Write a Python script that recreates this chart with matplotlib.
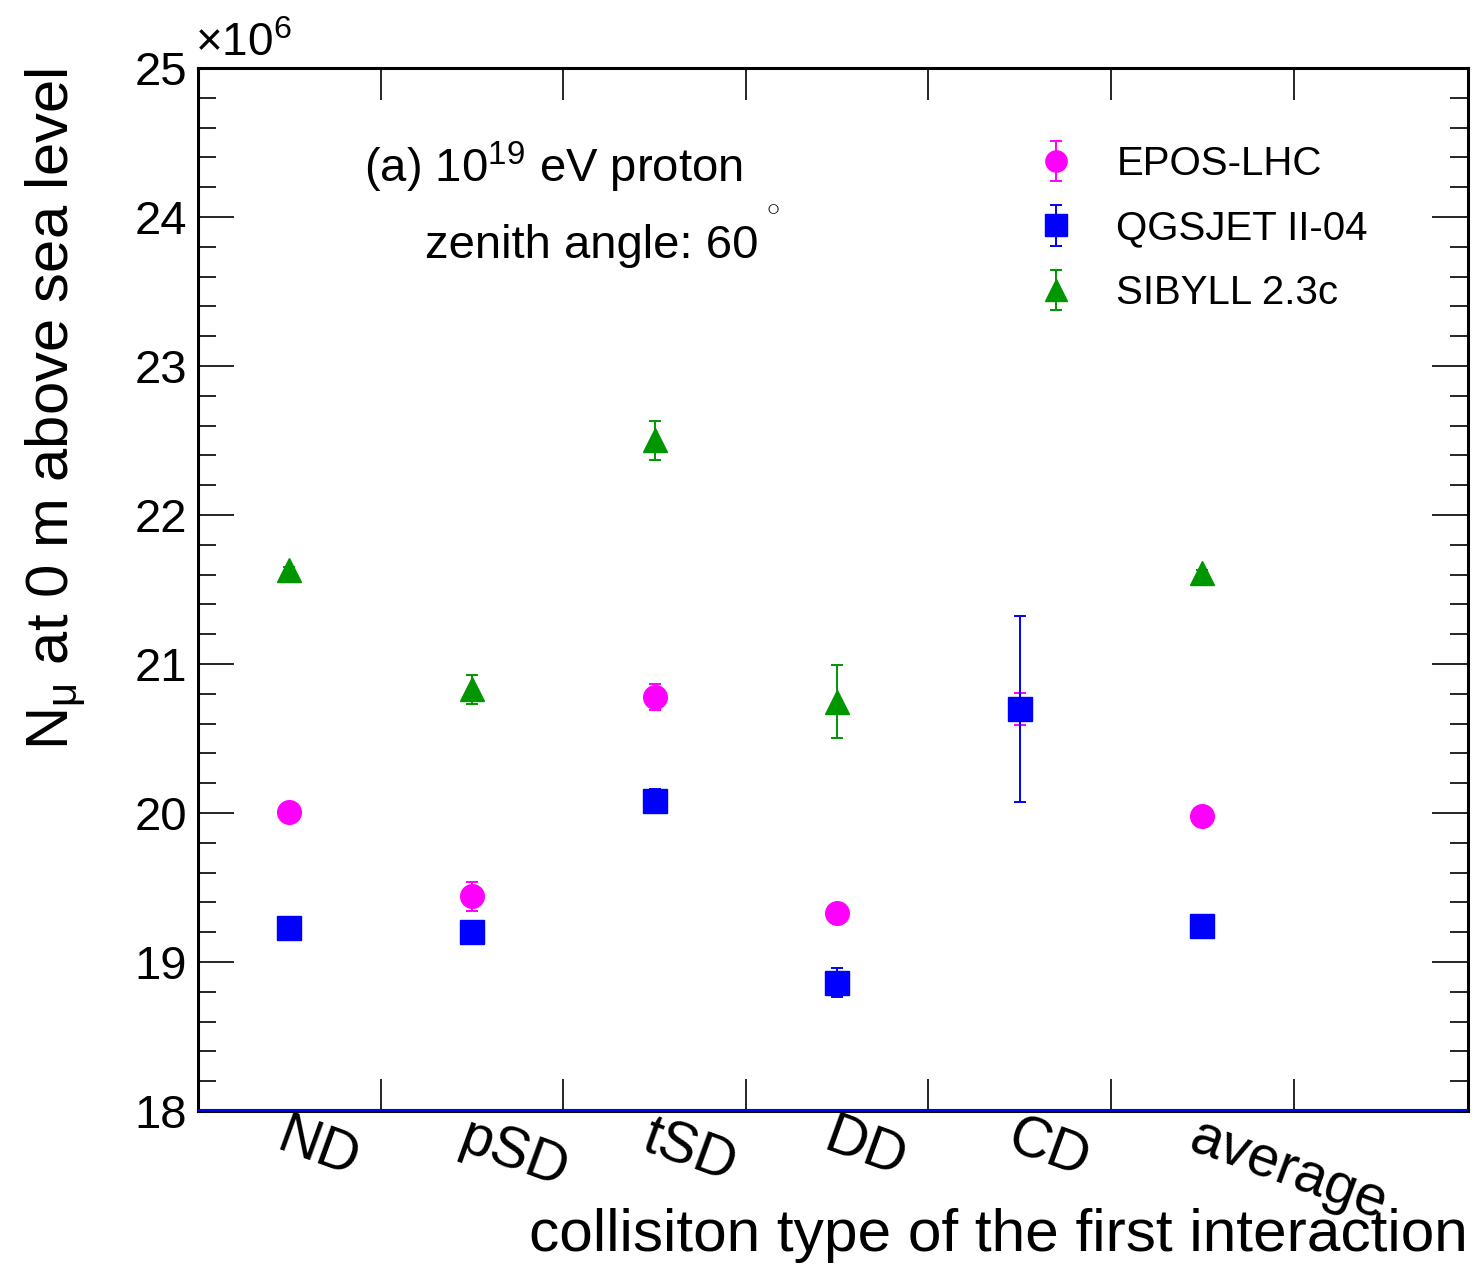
import numpy as np
import matplotlib
matplotlib.use("Agg")
import matplotlib.pyplot as plt
from matplotlib.ticker import MultipleLocator

plt.rcParams['font.family'] = ['Liberation Sans', 'DejaVu Sans']
plt.rcParams['mathtext.fontset'] = 'custom'
plt.rcParams['mathtext.rm'] = 'Liberation Sans'
plt.rcParams['mathtext.it'] = 'Liberation Sans'

# --- data (units of 1e6 muons) ---
categories = ['ND', 'pSD', 'tSD', 'DD', 'CD', 'average']

epos_val = [20.01, 19.44, 20.78, 19.33, 20.70, 19.98]
epos_err = [0.02, 0.10, 0.087, 0.02, 0.108, 0.02]

qgs_val = [19.23, 19.20, 20.08, 18.86, 20.70, 19.24]
qgs_err = [0.02, 0.02, 0.08, 0.097, 0.623, 0.02]

# no SIBYLL point for CD
sib_cats = ['ND', 'pSD', 'tSD', 'DD', 'average']
sib_val = [21.63, 20.83, 22.50, 20.745, 21.61]
sib_err = [0.02, 0.097, 0.128, 0.245, 0.02]

MAGENTA = '#ff00ff'
BLUE = '#0000ff'
GREEN = '#009600'

fig = plt.figure(figsize=(14.76, 12.66), dpi=100)
ax = fig.add_axes([198/1476, 1 - 1111/1266, 1270/1476, 1043/1266])

xpos = {c: i + 0.5 for i, c in enumerate(categories)}
x_all = [xpos[c] for c in categories]
x_sib = [xpos[c] for c in sib_cats]

eb_kw = dict(linestyle='none', capsize=4.5, elinewidth=1.4, capthick=1.4, markersize=17)
h1 = ax.errorbar(x_all, epos_val, yerr=epos_err, fmt='o', color=MAGENTA, **eb_kw)
h2 = ax.errorbar(x_all, qgs_val, yerr=qgs_err, fmt='s', color=BLUE, **eb_kw)
h3 = ax.errorbar(x_sib, sib_val, yerr=sib_err, fmt='^', color=GREEN, **eb_kw)

ax.axhline(18.005, color=BLUE, lw=1.5, zorder=3)

ax.set_xlim(0, 1270/182.6)
ax.set_ylim(18, 25)

# ROOT-style ticks
ax.xaxis.set_major_locator(MultipleLocator(1))
ax.yaxis.set_major_locator(MultipleLocator(1))
ax.yaxis.set_minor_locator(MultipleLocator(0.2))
ax.tick_params(axis='both', which='both', direction='in', top=True, right=True, width=1.2)
ax.tick_params(axis='y', which='major', length=26, labelsize=34, pad=8)
ax.tick_params(axis='y', which='minor', length=13)
ax.tick_params(axis='x', which='major', length=23, labelbottom=False)
for s in ax.spines.values():
    s.set_linewidth(2.2)

for c in categories:
    ax.text(xpos[c] - 0.005, 0.001, c, transform=ax.get_xaxis_transform(),
            rotation=-20, rotation_mode='anchor', ha='left', va='top', fontsize=41)

ax.text(-0.002, 1.002, r'$\times$10$^{6}$', transform=ax.transAxes, fontsize=33,
        ha='left', va='bottom')

ax.set_ylabel(r'N$_{\mathrm{μ}}$ at 0 m above sea level', fontsize=43, loc='top', labelpad=34)
ax.set_xlabel('collisiton type of the first interaction', fontsize=43.5, loc='right', labelpad=70)

ax.text(0.131, 0.905, r'(a) 10$^{19}$ eV proton', transform=ax.transAxes, fontsize=34,
        ha='left', va='center')
ax.text(0.179, 0.829, 'zenith angle: 60', transform=ax.transAxes, fontsize=34,
        ha='left', va='center')
ax.text(0.447, 0.867, r'$\circ$', transform=ax.transAxes, fontsize=19,
        ha='left', va='center')

leg = ax.legend([h1, h2, h3], ['EPOS-LHC', 'QGSJET II-04', 'SIBYLL 2.3c'],
                loc='upper left', bbox_to_anchor=(0.628, 0.961), frameon=False,
                fontsize=29, handlelength=1.2, handletextpad=0.9, labelspacing=0.66,
                markerscale=0.9)

fig.savefig('out.png', dpi=100)
